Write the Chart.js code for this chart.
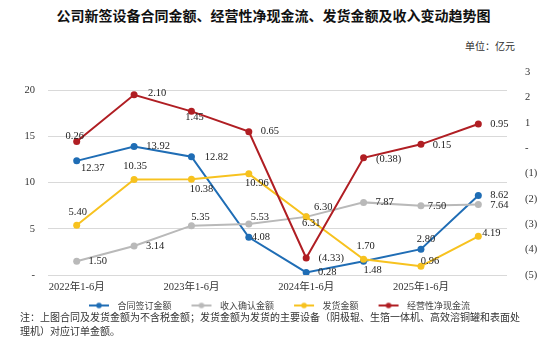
<!DOCTYPE html>
<html lang="zh">
<head>
    <meta charset="UTF-8">
    <title>公司新签设备合同金额趋势图</title>
    <script src="https://cdn.jsdelivr.net/npm/chart.js"></script>
    <style>
        body {
            margin: 0;
            padding: 0;
            background: #fff;
            font-family: "Noto Sans CJK SC", sans-serif;
        }
        .wrap {
            position: relative;
            width: 547px;
            height: 363px;
            overflow: hidden;
        }
        .title {
            position: absolute;
            top: 5px;
            left: 0;
            width: 547px;
            text-align: center;
            font-size: 14px;
            font-weight: bold;
            line-height: 20px;
            color: #111;
        }
        .unit {
            position: absolute;
            top: 38px;
            right: 32px;
            font-size: 10px;
            color: #333;
        }
        #chart {
            position: absolute;
            top: 0;
            left: 0;
        }
        .note {
            position: absolute;
            top: 310px;
            left: 20px;
            width: 525px;
            font-size: 10px;
            line-height: 14px;
            color: #333;
            white-space: nowrap;
        }
    </style>
</head>
<body>
<div class="wrap">
    <div class="title">公司新签设备合同金额、经营性净现金流、发货金额及收入变动趋势图</div>
    <div class="unit">单位：亿元</div>
    <canvas id="chart" width="547" height="320"></canvas>
    <div class="note">注：上图合同及发货金额为不含税金额；发货金额为发货的主要设备（阴极辊、生箔一体机、高效溶铜罐和表面处<br>理机）对应订单金额。</div>
</div>

<script>
    // data
    const periods = ['2022年1-6月', '2022年7-12月', '2023年1-6月', '2023年7-12月',
                     '2024年1-6月', '2024年7-12月', '2025年1-6月', '2025年7-12月'];
    const contractAmt = [12.37, 13.92, 12.82, 4.08, 0.28, 1.48, 2.80, 8.62];
    const revenueAmt  = [1.50, 3.14, 5.35, 5.53, 6.30, 7.87, 7.50, 7.64];
    const shipAmt     = [5.40, 10.35, 10.38, 10.96, 6.31, 1.70, 0.96, 4.19];
    const cashFlow    = [0.26, 2.10, 1.45, 0.65, -4.33, -0.38, 0.15, 0.95];

    // label offsets (dx, dy) from each point
    const blueLbl   = [[16, 7], [24, 0], [25, 1], [12, 0], [21, 0], [9, 9], [5, -10], [21, 0]];
    const grayLbl   = [[21, 0], [21, 0], [9, -8], [11, -7], [17, -10], [21, 0], [16, 0], [21, 1]];
    const yellowLbl = [[1, -13], [1, -13], [10, 10], [8, 9], [5, 6], [2, -13], [9, -5], [13, -3]];
    const redLbl    = [[-2, -5], [23, -2], [3, 6], [21, 0], [25, 0], [25, 1], [21, 1], [21, 0]];

    const BLUE = '#1f6db5', GRAY = '#b9b9b9', YELLOW = '#f7c21f', RED = '#b01e23';
    const numFont = "'Liberation Serif', 'Noto Sans CJK SC', serif";

    function legendIcon(color) {
        const c = document.createElement('canvas');
        c.width = 36;
        c.height = 8;
        const g = c.getContext('2d');
        g.strokeStyle = color;
        g.lineWidth = 2;
        g.beginPath();
        g.moveTo(12, 4);
        g.lineTo(32, 4);
        g.stroke();
        g.fillStyle = color;
        g.beginPath();
        g.arc(22, 4, 2.8, 0, Math.PI * 2);
        g.fill();
        return c;
    }

    function fmt(v) {
        return v < 0 ? '(' + Math.abs(v).toFixed(2) + ')' : v.toFixed(2);
    }

    const pointLabels = {
        id: 'pointLabels',
        afterDatasetsDraw(chart) {
            const ctx = chart.ctx;
            ctx.save();
            ctx.font = '10.5px ' + numFont;
            ctx.fillStyle = '#222';
            ctx.textAlign = 'center';
            ctx.textBaseline = 'middle';
            chart.data.datasets.forEach((ds, i) => {
                const meta = chart.getDatasetMeta(i);
                meta.data.forEach((pt, j) => {
                    const off = ds.lblOffsets[j];
                    ctx.fillText(fmt(ds.data[j]), pt.x + off[0], pt.y + off[1]);
                });
            });
            ctx.restore();
        }
    };

    function series(label, data, color, axis, order, offsets) {
        return {
            label: label,
            data: data,
            yAxisID: axis,
            order: order,
            borderColor: color,
            backgroundColor: color,
            borderWidth: 2,
            pointRadius: 3.5,
            pointBorderWidth: 0,
            pointBackgroundColor: color,
            tension: 0,
            lblOffsets: offsets,
            iconColor: color
        };
    }

    new Chart(document.getElementById('chart').getContext('2d'), {
        type: 'line',
        data: {
            labels: periods,
            datasets: [
                series('合同签订金额', contractAmt, BLUE, 'y', 4, blueLbl),
                series('收入确认金额', revenueAmt, GRAY, 'y', 3, grayLbl),
                series('发货金额', shipAmt, YELLOW, 'y', 2, yellowLbl),
                series('经营性净现金流', cashFlow, RED, 'y1', 1, redLbl)
            ]
        },
        options: {
            responsive: false,
            animation: false,
            layout: {
                padding: { top: 72, left: 0, right: 0, bottom: 0 }
            },
            plugins: {
                tooltip: { enabled: false },
                legend: {
                    position: 'bottom',
                    labels: {
                        usePointStyle: true,
                        pointStyleWidth: 36,
                        padding: 8,
                        color: '#444',
                        font: { size: 9, family: "'Noto Sans CJK SC', sans-serif" },
                        sort: (a, b) => a.datasetIndex - b.datasetIndex,
                        generateLabels(chart) {
                            const items = Chart.defaults.plugins.legend.labels.generateLabels(chart);
                            items.forEach(it => {
                                it.pointStyle = legendIcon(chart.data.datasets[it.datasetIndex].iconColor);
                            });
                            return items;
                        }
                    }
                }
            },
            scales: {
                x: {
                    offset: true,
                    grid: { display: false, drawTicks: false, offset: true },
                    border: { display: false },
                    afterFit: (s) => { s.height = 18; },
                    ticks: {
                        autoSkip: false,
                        maxRotation: 0,
                        padding: 6.5,
                        color: '#333',
                        font: { size: 10.5, family: numFont, lineHeight: 1 },
                        callback: function (value, index) {
                            return index % 2 === 0 ? this.getLabelForValue(value) : '';
                        }
                    }
                },
                y: {
                    position: 'left',
                    min: 0,
                    max: 22,
                    afterBuildTicks: (axis) => {
                        axis.ticks = axis.ticks.filter(t => t.value % 5 === 0);
                    },
                    afterFit: (s) => { s.width = 48; },
                    grid: { color: '#d9d9d9', drawTicks: false, lineWidth: 1 },
                    border: { display: false },
                    ticks: {
                        stepSize: 5,
                        padding: 13,
                        color: '#333',
                        font: { size: 10.5, family: numFont },
                        callback: (v) => v === 0 ? '-' : v
                    }
                },
                y1: {
                    position: 'right',
                    min: -5,
                    max: 3,
                    afterFit: (s) => { s.width = 40; },
                    grid: { display: false, drawOnChartArea: false },
                    border: { display: false },
                    ticks: {
                        stepSize: 1,
                        padding: 10,
                        color: '#333',
                        font: { size: 10.5, family: numFont },
                        callback: (v) => v === 0 ? '-' : (v < 0 ? '(' + (-v) + ')' : v)
                    }
                }
            }
        },
        plugins: [pointLabels]
    });
</script>
</body>
</html>
